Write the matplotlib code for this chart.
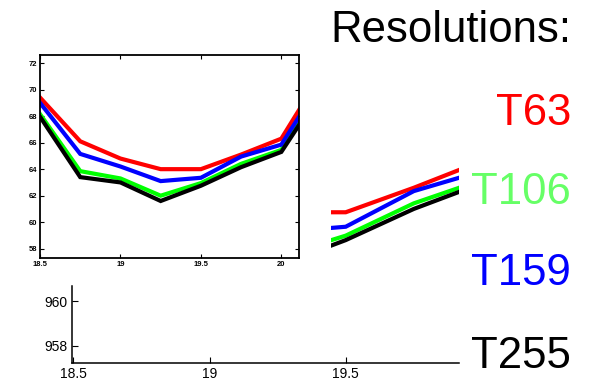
import numpy as np
import matplotlib
matplotlib.use('Agg')
import matplotlib.pyplot as plt
from matplotlib.patches import Rectangle
from matplotlib.transforms import blended_transform_factory

plt.rcParams['font.family'] = ['Liberation Sans', 'DejaVu Sans']

# latitude-like positions and values per resolution
x = [18.5, 18.75, 19.0, 19.25, 19.5, 19.75, 20.0, 20.25]
t63 = [69.4, 66.1, 64.8, 64.0, 64.0, 65.1, 66.3, 71.2]
t106 = [68.15, 63.85, 63.3, 62.0, 62.95, 64.4, 65.45, 70.2]
t159 = [69.0, 65.15, 64.2, 63.1, 63.35, 64.95, 65.85, 70.6]
t255 = [67.95, 63.4, 63.0, 61.6, 62.75, 64.15, 65.3, 69.9]
offset = 900  # lower panel shows the same curves shifted

names = ['T63', 'T106', 'T159', 'T255']
series = [t63, t106, t159, t255]
line_colors = ['#ff0000', '#00ff00', '#0000ff', '#000000']
text_colors = ['#ff0000', '#66ff66', '#0000ff', '#000000']

top_yticks = [58, 60, 62, 64, 66, 68, 70, 72]
top_xticks = [18.5, 19, 19.5, 20]
bot_xticks = [18.5, 19, 19.5]
bot_yticks = [958, 960]

fig = plt.figure(figsize=(5.92, 3.84), dpi=100)

# lower panel (drawn first, sits under the upper one)
axb = fig.add_axes([0.1211, 0.0539, 0.6547, 0.2013])
axb.set_xlim(18.494, 19.917)
axb.set_ylim(957.22, 960.69)
trans = blended_transform_factory(axb.transData, axb.transAxes)
clip = Rectangle((19.445, -1), 19.917 - 19.445, 10, transform=trans,
                 facecolor='none', edgecolor='none')
for vals, c in zip(series, line_colors):
    ln, = axb.plot(x, np.array(vals) + offset, color=c, lw=3,
                   solid_joinstyle='miter')
    ln.set_clip_box(None)
    ln.set_clip_path(clip)
axb.spines['top'].set_visible(False)
axb.spines['right'].set_visible(False)
for s in ['left', 'bottom']:
    axb.spines[s].set_linewidth(1.1)
axb.set_xticks(bot_xticks)
axb.set_xticklabels(['18.5', '19', '19.5'])
axb.set_yticks(bot_yticks)
axb.tick_params(direction='in', length=4, width=0.8, labelsize=10, pad=3)

# upper panel
axt = fig.add_axes([0.0676, 0.328, 0.4375, 0.5286])
axt.set_facecolor('white')
for vals, c in zip(series, line_colors):
    axt.plot(x, vals, color=c, lw=3, solid_joinstyle='miter')
axt.set_xlim(18.5, 20.11)
axt.set_ylim(57.3, 72.6)
axt.set_xticks(top_xticks)
axt.set_xticklabels(['18.5', '19', '19.5', '20'])
axt.set_yticks(top_yticks)
for s in axt.spines.values():
    s.set_linewidth(1.3)
axt.tick_params(direction='in', length=3, width=0.8, top=True, right=True,
                labelsize=5.5, pad=2)
for lab in axt.get_xticklabels() + axt.get_yticklabels():
    lab.set_fontweight('bold')

# legend-like labels on the right
fig.text(0.9645, 0.8906, 'Resolutions:', ha='right', va='baseline',
         fontsize=31.5, color='black')
ys = [0.6745, 0.4688, 0.2578, 0.0417]
for name, c, yy in zip(names, text_colors, ys):
    fig.text(0.9645, yy, name, ha='right', va='baseline', fontsize=31.5,
             color=c)

fig.savefig('out.png', dpi=100)
